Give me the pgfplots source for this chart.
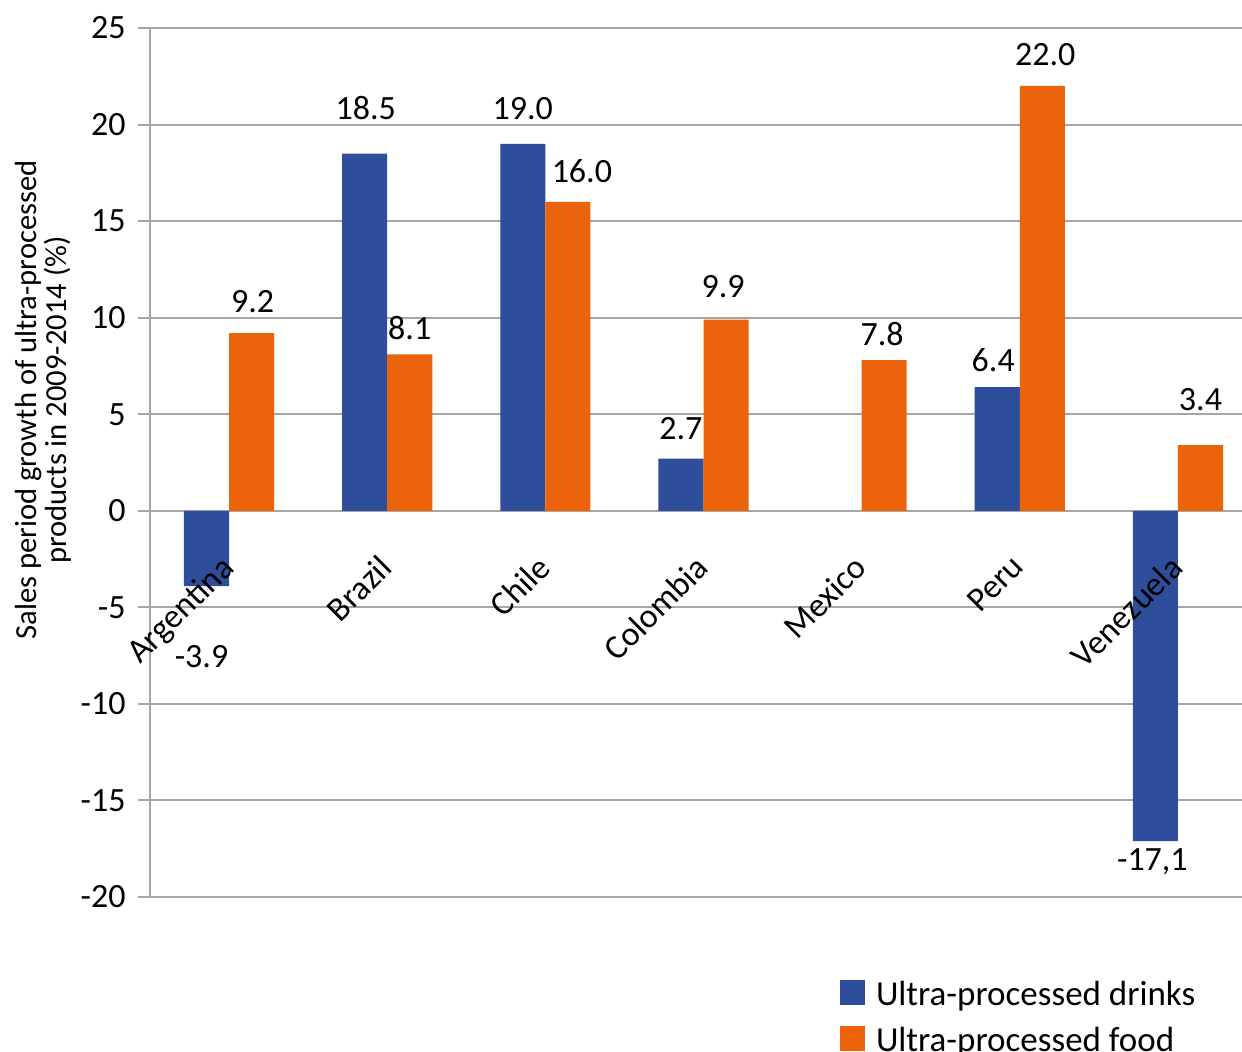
\documentclass[border=0pt]{standalone}
\usepackage{fontspec}
\setmainfont{Carlito}
\usepackage{pgfplots}
\usepackage{pgfplotstable}
\pgfplotsset{compat=1.18}

\definecolor{drinkblue}{RGB}{46,77,155}
\definecolor{foodorange}{RGB}{235,100,11}
\definecolor{gridgrey}{RGB}{166,166,166}

% growth in %, label text, label offset (pt) from the bar end
\pgfplotstableread{
x y lab dx dy
0 -3.9 -3.9 -2.5 -35.5
1 18.5 18.5 0.5 23
2 19.0 19.0 0 17.5
3 2.7 2.7 0 15
5 6.4 6.4 -2 13.5
6 -17.1 -17,1 -1.5 -10.5
}\drinks

\pgfplotstableread{
x y lab dx dy
0 9.2 9.2 0.5 16
1 8.1 8.1 0 13
2 16.0 16.0 7 15.5
3 9.9 9.9 -1.5 16.5
4 7.8 7.8 -1 13
5 22.0 22.0 1.5 15.5
6 3.4 3.4 0 23
}\food

\newcommand\labfont{\fontsize{17}{19}\selectfont}
% half a bar in pt (0.1425 units of 553.5pt/7)
\newcommand\halfbar{11.27pt}

\tikzset{catlabel/.style={font=\labfont, anchor=north east, inner sep=0pt,
  xshift=-5pt, yshift=-21pt, rotate=45}}

\begin{document}
\begin{tikzpicture}
\begin{axis}[
  clip=false,
  scale only axis,
  width=553.5pt, height=434.5pt,
  at={(0pt,0pt)}, anchor=south west,
  xmin=-0.5, xmax=6.5,
  ymin=-20, ymax=25,
  ytick={-20,-15,...,25},
  xtick=\empty,
  axis x line*=middle,
  axis y line*=left,
  hide obscured y ticks=false,
  x axis line style={draw=none},
  y axis line style={draw=gridgrey, line width=1pt},
  ymajorgrids,
  major grid style={draw=gridgrey, line width=1pt},
  major y tick style={draw=gridgrey, line width=1pt},
  tick align=outside,
  major tick length=6pt,
  /pgf/number format/assume math mode=true,
  yticklabel style={font=\labfont, inner sep=0pt, xshift=-6pt},
  ylabel={Sales period growth of ultra-processed\\products in 2009-2014 (\%)},
  ylabel style={at={(axis description cs:-0.0967,0.572)}, anchor=center, align=center, font=\fontsize{15.3}{15}\selectfont},
  legend style={draw=none, fill=none, at={(axis description cs:0.6233,-0.0956)}, anchor=north west,
    inner sep=0pt, outer sep=0pt, row sep=8.5pt, font=\fontsize{17.5}{20}\selectfont,
    nodes={inner sep=0pt},
    /tikz/every odd column/.append style={column sep=5.5pt}},
  legend cell align=left,
]
\addplot[ybar, fill=drinkblue, draw=none, bar width=0.285, bar shift=-0.1425,
  nodes near coords, point meta=explicit symbolic,
  visualization depends on={\thisrow{dx}\as\ldx},
  visualization depends on={\thisrow{dy}\as\ldy},
  every node near coord/.append style={anchor=center, xshift={\ldx pt-\halfbar}, yshift=\ldy pt, font=\labfont, text=black, inner sep=0pt},
  legend image code/.code={\fill[drinkblue] (0pt,-5pt) rectangle (12.5pt,7.5pt);}
] table[x=x, y=y, meta=lab]{\drinks};
\addlegendentry{Ultra-processed drinks}
\addplot[ybar, fill=foodorange, draw=none, bar width=0.285, bar shift=0.1425,
  nodes near coords, point meta=explicit symbolic,
  visualization depends on={\thisrow{dx}\as\ldx},
  visualization depends on={\thisrow{dy}\as\ldy},
  every node near coord/.append style={anchor=center, xshift={\ldx pt+\halfbar}, yshift=\ldy pt, font=\labfont, text=black, inner sep=0pt},
  legend image code/.code={\fill[foodorange] (0pt,-5pt) rectangle (12.5pt,7.5pt);}
] table[x=x, y=y, meta=lab]{\food};
\addlegendentry{Ultra-processed food}
% country names along the zero line, set over the bars
\node[catlabel] at (axis cs:0,0) {Argentina};
\node[catlabel] at (axis cs:1,0) {Brazil};
\node[catlabel] at (axis cs:2,0) {Chile};
\node[catlabel] at (axis cs:3,0) {Colombia};
\node[catlabel] at (axis cs:4,0) {Mexico};
\node[catlabel] at (axis cs:5,0) {Peru};
\node[catlabel] at (axis cs:6,0) {Venezuela};
\end{axis}
\pgfresetboundingbox
\useasboundingbox (-75pt,-77pt) rectangle (546pt,448.5pt);
\end{tikzpicture}
\end{document}
